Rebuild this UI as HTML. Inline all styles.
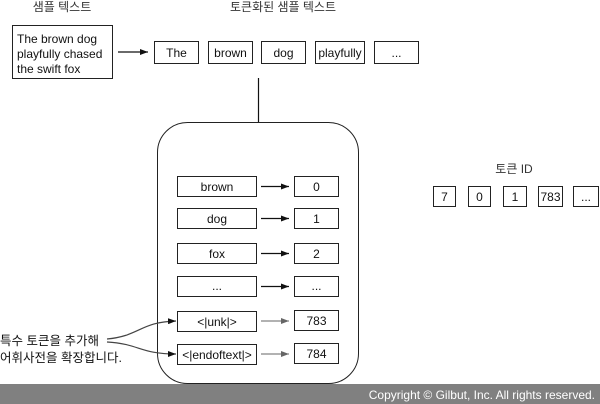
<!DOCTYPE html>
<html><head><meta charset="utf-8"><style>
body{margin:0;width:600px;height:404px;background:#fff;overflow:hidden;position:relative;font-family:"Liberation Sans","Noto Sans CJK KR",sans-serif;color:#111}
</style></head><body>
<svg width="600" height="404" style="position:absolute;left:0;top:0" font-family="Liberation Sans, Noto Sans CJK KR, sans-serif">
<defs>
<marker id="a" markerWidth="8" markerHeight="6" refX="8" refY="3" orient="auto" markerUnits="userSpaceOnUse"><path d="M0,0 L8,3 L0,6z" fill="#111"/></marker>
<marker id="g" markerWidth="8" markerHeight="6" refX="8" refY="3" orient="auto" markerUnits="userSpaceOnUse"><path d="M0,0 L8,3 L0,6z" fill="#666"/></marker>
</defs>
<g font-size="12" text-anchor="middle" fill="#333">
<text x="62" y="11">샘플 텍스트</text>
<text x="283" y="11">토큰화된 샘플 텍스트</text>
<text x="258" y="155">기존 어휘사전</text>
<text x="514" y="173">토큰 ID</text>
</g>
<g fill="#fff" stroke="#222" stroke-width="1">
<rect x="12.5" y="25.5" width="100" height="53"/>
<rect x="154.5" y="41.5" width="44" height="22"/>
<rect x="208.5" y="41.5" width="44" height="22"/>
<rect x="261.5" y="41.5" width="44" height="22"/>
<rect x="315.5" y="41.5" width="49" height="22"/>
<rect x="374.5" y="41.5" width="44" height="22"/>
<rect x="157.5" y="122.5" width="201" height="261" rx="30"/>
<rect x="177.5" y="176.5" width="79" height="20"/>
<rect x="177.5" y="208.5" width="79" height="20"/>
<rect x="177.5" y="243.5" width="79" height="20"/>
<rect x="177.5" y="276.5" width="79" height="20"/>
<rect x="177.5" y="311.5" width="79" height="20"/>
<rect x="177.5" y="344.5" width="79" height="20"/>
<rect x="294.5" y="176.5" width="44" height="20"/>
<rect x="294.5" y="208.5" width="44" height="20"/>
<rect x="294.5" y="243.5" width="44" height="20"/>
<rect x="294.5" y="276.5" width="44" height="20"/>
<rect x="294.5" y="310.5" width="44" height="20"/>
<rect x="294.5" y="343.5" width="44" height="20"/>
<rect x="433.5" y="186.5" width="22" height="20"/>
<rect x="468.5" y="186.5" width="22" height="20"/>
<rect x="503.5" y="186.5" width="23" height="20"/>
<rect x="538.5" y="186.5" width="24" height="20"/>
<rect x="573.5" y="186.5" width="25" height="20"/>
</g>
<g stroke="#111" stroke-width="1.2" fill="none">
<line x1="118" y1="52" x2="148" y2="52" marker-end="url(#a)"/>
<line x1="258.5" y1="78" x2="258.5" y2="122"/>
<line x1="261" y1="186.5" x2="289" y2="186.5" marker-end="url(#a)"/>
<line x1="261" y1="218.5" x2="289" y2="218.5" marker-end="url(#a)"/>
<line x1="261" y1="253.5" x2="289" y2="253.5" marker-end="url(#a)"/>
<line x1="261" y1="286.5" x2="289" y2="286.5" marker-end="url(#a)"/>
<path d="M107,339 C140,336 140,322 176,321" stroke="#444" marker-end="url(#a)"/>
<path d="M107,342 C140,344 140,354 176,354" stroke="#444" marker-end="url(#a)"/>
</g>
<g stroke="#666" stroke-width="1" fill="none">
<line x1="261" y1="321" x2="289" y2="321" marker-end="url(#g)"/>
<line x1="261" y1="354" x2="289" y2="354" marker-end="url(#g)"/>
</g>
<g font-size="12" fill="#111">
<text x="17" y="43">The brown dog</text>
<text x="17" y="58">playfully chased</text>
<text x="17" y="73">the swift fox</text>
</g>
<g font-size="12.5" fill="#111">
<text x="0" y="345">특수 토큰을 추가해</text>
<text x="0" y="362">어휘사전을 확장합니다.</text>
</g>
<g font-size="12" text-anchor="middle" fill="#111">
<text x="176.5" y="57">The</text>
<text x="230.5" y="57">brown</text>
<text x="283.5" y="57">dog</text>
<text x="340" y="57">playfully</text>
<text x="396.5" y="57">...</text>
<text x="217" y="191">brown</text>
<text x="217" y="223">dog</text>
<text x="217" y="258">fox</text>
<text x="217" y="290">...</text>
<text x="217" y="326">&lt;|unk|&gt;</text>
<text x="217" y="359">&lt;|endoftext|&gt;</text>
<text x="316.5" y="191">0</text>
<text x="316.5" y="223">1</text>
<text x="316.5" y="258">2</text>
<text x="316.5" y="290">...</text>
<text x="316.5" y="325">783</text>
<text x="316.5" y="358">784</text>
<text x="444.5" y="201">7</text>
<text x="479.5" y="201">0</text>
<text x="515" y="201">1</text>
<text x="550.5" y="201">783</text>
<text x="586" y="201">...</text>
</g>
<rect x="0" y="384" width="600" height="20" fill="#808080"/>
<text x="595" y="399" font-size="12" fill="#fff" text-anchor="end">Copyright © Gilbut, Inc. All rights reserved.</text>
</svg>
</body></html>
